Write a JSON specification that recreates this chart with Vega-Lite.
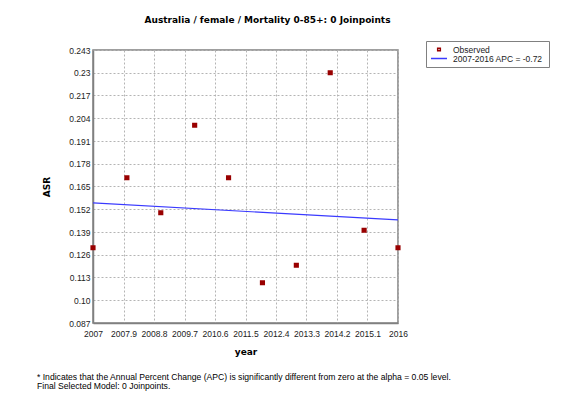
{
  "$schema": "https://vega.github.io/schema/vega-lite/v6.json",
  "width": 305,
  "height": 273,
  "autosize": {"type": "none"},
  "padding": {"left": 93, "top": 50, "right": 175, "bottom": 87},
  "background": "white",
  "title": {
    "text": ["* Indicates that the Annual Percent Change (APC) is significantly different from zero at the alpha = 0.05 level.", "Final Selected Model: 0 Joinpoints."],
    "orient": "bottom",
    "anchor": "start",
    "frame": "group",
    "dx": -56,
    "offset": 16,
    "font": "Liberation Sans",
    "fontSize": 8.6,
    "fontWeight": "normal",
    "color": "black",
    "lineHeight": 9.5
  },
  "config": {
    "view": {"stroke": "#808080", "strokeWidth": 1.5},
    "axis": {
      "labelFont": "Liberation Sans",
      "labelFontSize": 8.5,
      "labelColor": "#222222",
      "titleFont": "DejaVu Sans",
      "titleFontSize": 9,
      "titleFontWeight": "bold",
      "titleColor": "black",
      "gridColor": "#b4b4b4",
      "gridDash": [2, 2],
      "gridWidth": 1,
      "domainColor": "#808080",
      "domainWidth": 1.5,
      "ticks": false
    },
    "legend": {
      "orient": "none",
      "legendX": 333,
      "legendY": -9,
      "strokeColor": "#808080",
      "fillColor": "white",
      "padding": 4,
      "labelFont": "Liberation Sans",
      "labelFontSize": 8.5,
      "labelColor": "#222222",
      "labelOffset": 5,
      "rowPadding": 0,
      "clipHeight": 9,
      "symbolStrokeWidth": 1.5
    }
  },
  "datasets": {
    "observed": [
      {"year": 2007, "asr": 0.13, "series": "Observed"},
      {"year": 2008, "asr": 0.17, "series": "Observed"},
      {"year": 2009, "asr": 0.15, "series": "Observed"},
      {"year": 2010, "asr": 0.2, "series": "Observed"},
      {"year": 2011, "asr": 0.17, "series": "Observed"},
      {"year": 2012, "asr": 0.11, "series": "Observed"},
      {"year": 2013, "asr": 0.12, "series": "Observed"},
      {"year": 2014, "asr": 0.23, "series": "Observed"},
      {"year": 2015, "asr": 0.14, "series": "Observed"},
      {"year": 2016, "asr": 0.13, "series": "Observed"}
    ],
    "fit": [
      {"year": 2007, "asr": 0.1556},
      {"year": 2016, "asr": 0.1459}
    ]
  },
  "resolve": {"axis": {"x": "independent"}},
  "layer": [
    {
      "data": {"name": "observed"},
      "mark": {"type": "point", "filled": false, "strokeWidth": 2.5, "opacity": 1},
      "encoding": {
        "x": {
          "field": "year", "type": "quantitative",
          "scale": {"domain": [2007, 2016], "nice": false, "zero": false},
          "axis": {
            "orient": "bottom",
            "title": "year",
            "grid": true,
            "values": [2007, 2007.9, 2008.8, 2009.7, 2010.6, 2011.5, 2012.4, 2013.3, 2014.2, 2015.1, 2016],
            "tickCount": 20,
            "labelExpr": "datum.value % 1 === 0 ? format(datum.value, 'd') : format(datum.value, '.1f')",
            "labelFlush": false,
            "labelPadding": 6,
            "titlePadding": 10,
            "labelOverlap": false
          }
        },
        "y": {
          "field": "asr", "type": "quantitative",
          "scale": {"domain": [0.087, 0.243], "nice": false, "zero": false},
          "axis": {
            "title": "ASR",
            "grid": true,
            "values": [0.087, 0.1, 0.113, 0.126, 0.139, 0.152, 0.165, 0.178, 0.191, 0.204, 0.217, 0.23, 0.243],
            "tickCount": 20,
            "labelExpr": "datum.value === 0.1 ? '0.10' : format(datum.value, '.3~f')",
            "labelFlush": false,
            "labelPadding": 3,
            "titlePadding": 17,
            "labelOverlap": false
          }
        },
        "color": {
          "field": "series", "type": "nominal",
          "scale": {"domain": ["Observed", "2007-2016 APC  = -0.72"], "range": ["#990000", "#3a3aff"]},
          "legend": {"title": null, "labelExpr": "datum.label + '\u00a0\u00a0\u00a0\u00a0\u00a0\u00a0\u00a0'"}
        },
        "shape": {
          "field": "series", "type": "nominal",
          "scale": {"domain": ["Observed", "2007-2016 APC  = -0.72"], "range": ["square", "stroke"]},
          "legend": {"title": null, "labelExpr": "datum.label + '\u00a0\u00a0\u00a0\u00a0\u00a0\u00a0\u00a0'"}
        },
        "size": {
          "field": "series", "type": "ordinal",
          "scale": {"domain": ["Observed", "2007-2016 APC  = -0.72"], "range": [7, 256]},
          "legend": {"title": null, "labelExpr": "datum.label + '\u00a0\u00a0\u00a0\u00a0\u00a0\u00a0\u00a0'"}
        }
      }
    },
    {
      "data": {"name": "fit"},
      "mark": {"type": "line", "strokeWidth": 1.2, "color": "#3a3aff"},
      "encoding": {
        "x": {
          "field": "year", "type": "quantitative",
          "axis": {
            "orient": "top",
            "title": "Australia / female / Mortality 0-85+: 0 Joinpoints",
            "labels": false, "ticks": false, "domain": false, "grid": false,
            "titleX": 174, "titleY": -31, "titleBaseline": "middle", "titleAlign": "center"
          }
        },
        "y": {"field": "asr", "type": "quantitative"}
      }
    }
  ]
}
